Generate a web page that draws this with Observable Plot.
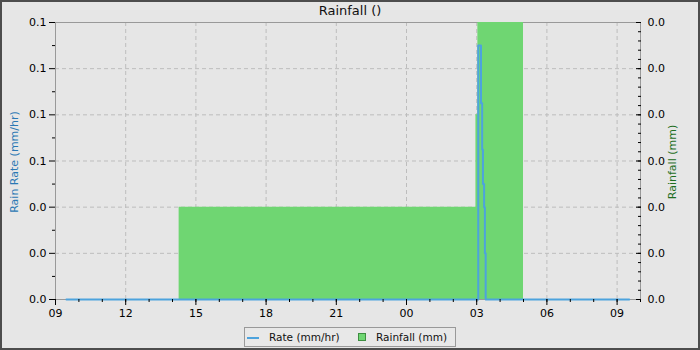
<!DOCTYPE html>
<html><head><meta charset="utf-8">
<script src="https://cdn.jsdelivr.net/npm/d3@7"></script>
<script src="https://cdn.jsdelivr.net/npm/@observablehq/plot@0.6"></script>
<style>
html,body{margin:0;padding:0;background:#e6e6e6}
#chart{position:relative;width:700px;height:350px;box-sizing:border-box;border:2px solid #4d4d4d;background:#e6e6e6;font-family:"DejaVu Sans",sans-serif;overflow:hidden}
#title{height:17px;line-height:17px;font-size:13px;text-align:center;color:#111}
#plot svg{display:block;overflow:visible}
#legend{position:absolute;left:242px;top:325px;width:212px;height:20px;box-sizing:border-box;border:1px solid #999;background:#e8e8e8;font-size:10.5px;color:#111}
#legend .dash{position:absolute;left:2px;top:9px;width:12px;height:2px}
#legend .sq{position:absolute;left:113px;top:5px;width:8px;height:8px;box-sizing:border-box;border:1px solid #3e8e41}
#legend .lab{position:absolute;top:0;line-height:18px;white-space:nowrap}
</style></head>
<body>
<div id="chart">
  <div id="title"></div>
  <div id="plot"></div>
  <div id="legend"></div>
</div>
<script>
// ---- data ----
const chartTitle = "Rainfall ()";
const leftLabel = "Rain Rate (mm/hr)";
const rightLabel = "Rainfall (mm)";
const legendLabels = ["Rate (mm/hr)", "Rainfall (mm)"];
const rateColor = "#4da3dd";
const rainColor = "#6fd672";

const xStart = "01 09:00";
const xEnd = "02 10:00";

// rain rate (mm/hr)
const rateTimes  = ["01 09:28", "02 03:04", "02 03:04", "02 03:11", "02 03:14", "02 03:16", "02 03:19", "02 03:21", "02 03:23", "02 09:31"];
const rateValues = [0,          0,          0.11,       0.085,      0.065,      0.05,       0.04,       0.02,       0,          0];

// rainfall (mm)
const rainTimes  = ["01 14:17", "02 02:58", "02 03:03", "02 05:00"];
const rainValues = [0.01,       0.02,       0.03,       0];

// axes
const rateTicks = [0, 0.02, 0.04, 0.06, 0.08, 0.10, 0.12];
const rateMinorTicks = [0.01, 0.03, 0.05, 0.07, 0.09, 0.11];
const rainTicks = [0, 0.005, 0.01, 0.015, 0.02, 0.025, 0.03];
const rainMinorTicks = d3.range(0, 31).map(i => i / 1000);

// ---- build ----
const parse = d3.utcParse("%d %H:%M");
const rateMax = rateTicks[rateTicks.length - 1];
const rainMax = rainTicks[rainTicks.length - 1];
const k = rateMax / rainMax; // rainfall -> rate axis units

const rateData = rateTimes.map((t, i) => ({t: parse(t), v: rateValues[i]}));
const rainData = rainTimes.map((t, i) => ({t: parse(t), v: rainValues[i] * k}));
const xDomain = [parse(xStart), parse(xEnd)];
const xMajor = d3.utcHour.every(3).range(xDomain[0], new Date(+xDomain[1] + 1));
const xMinor = d3.utcHour.every(1).range(xDomain[0], new Date(+xDomain[1] + 1));

const gridStyle = {stroke: "#bdbdbd", strokeOpacity: 1, strokeDasharray: "4,3"};

const plot = Plot.plot({
  width: 696, height: 300,
  marginTop: 3, marginLeft: 53, marginRight: 58, marginBottom: 20,
  style: {background: "transparent", fontFamily: '"DejaVu Sans", sans-serif', fontSize: "11px", overflow: "visible", color: "#000"},
  x: {type: "utc", domain: xDomain},
  y: {domain: [0, rateMax]},
  marks: [
    Plot.gridX(xMajor.slice(1), gridStyle),
    Plot.gridY(rateTicks.slice(1, -1), gridStyle),
    Plot.frame({stroke: "#999"}),
    Plot.areaY(rainData, {x: "t", y: "v", curve: "step-after", fill: rainColor}),
    Plot.line(rateData, {x: "t", y: "v", curve: "step-after", stroke: rateColor, strokeWidth: 2}),
    Plot.axisX({ticks: xMajor, tickFormat: d3.utcFormat("%H"), tickSize: 6, tickPadding: 4, label: null}),
    Plot.axisX({ticks: xMinor, tickSize: 3, fill: "none", label: null}),
    Plot.axisY({ticks: rateTicks, tickFormat: d => d.toFixed(1), tickSize: 6, tickPadding: 3, label: null}),
    Plot.axisY({ticks: rateMinorTicks, tickSize: 3, fill: "none", label: null}),
    Plot.axisY({anchor: "right", ticks: rainTicks.map(v => v * k), tickSize: -5, fill: "none", label: null}),
    Plot.axisY({anchor: "right", ticks: rainMinorTicks.map(v => v * k), tickSize: -3, fill: "none", label: null}),
    Plot.axisY({anchor: "right", ticks: rainTicks.map(v => v * k), tickFormat: v => (v / k).toFixed(1), tickSize: 0, tickPadding: 7, label: null}),
    Plot.text([leftLabel], {text: d => d, frameAnchor: "left", textAnchor: "middle", lineAnchor: "middle", dx: -41, dy: 1, rotate: -90, fill: "#2a78b4", fontSize: 11}),
    Plot.text([rightLabel], {text: d => d, frameAnchor: "right", textAnchor: "middle", lineAnchor: "middle", dx: 32, dy: 1, rotate: -90, fill: "#1f6f1f", fontSize: 11})
  ]
});
document.getElementById("plot").appendChild(plot);
document.getElementById("title").textContent = chartTitle;

const lg = document.getElementById("legend");
lg.innerHTML =
  `<div class="dash" style="background:${rateColor}"></div>` +
  `<div class="lab" style="left:24px">${legendLabels[0]}</div>` +
  `<div class="sq" style="background:${rainColor}"></div>` +
  `<div class="lab" style="left:131px">${legendLabels[1]}</div>`;
</script>
</body></html>
